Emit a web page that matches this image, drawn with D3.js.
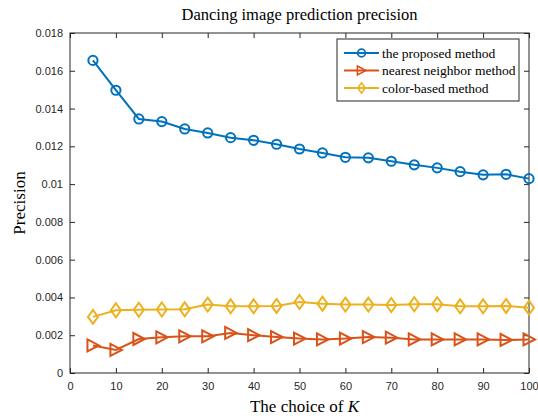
<!DOCTYPE html>
<html>
<head>
<meta charset="utf-8">
<script src="https://cdn.jsdelivr.net/npm/d3@7"></script>
<style>
  body { margin: 0; background: #fff; }
  svg { display: block; }
</style>
</head>
<body>
<svg id="root"></svg>
<script>
const kValues = [5, 10, 15, 20, 25, 30, 35, 40, 45, 50, 55, 60, 65, 70, 75, 80, 85, 90, 95, 100];
const proposed = [0.01655, 0.01497, 0.01345, 0.01331, 0.01292, 0.01271, 0.01246, 0.01232, 0.01211, 0.01186,
  0.01165, 0.01142, 0.01139, 0.01121, 0.01102, 0.01086, 0.01066, 0.01049, 0.01052, 0.01029];
const nearest = [0.00146, 0.00122, 0.0018, 0.00189, 0.00194, 0.00194, 0.00212, 0.002, 0.0019, 0.00182,
  0.00178, 0.00182, 0.0019, 0.00187, 0.00178, 0.00178, 0.00178, 0.00178, 0.00175, 0.00178];
const colorBased = [0.00297, 0.00332, 0.00335, 0.00336, 0.00337, 0.00362, 0.00353, 0.00353, 0.00355, 0.00376,
  0.00367, 0.00362, 0.00362, 0.0036, 0.00364, 0.00364, 0.00353, 0.00353, 0.00355, 0.00346];
const seriesNames = ["the proposed method", "nearest neighbor method", "color-based method"];
const xTicks = [0, 10, 20, 30, 40, 50, 60, 70, 80, 90, 100];
const yTicks = [0, 0.002, 0.004, 0.006, 0.008, 0.01, 0.012, 0.014, 0.016, 0.018];

(function () {
  const width = 538, height = 419;
  const margin = {left: 70, right: 9, top: 33, bottom: 46};
  const axisColor = "#262626";
  const colors = ["#0072BD", "#D95319", "#EDB120"];
  const shapes = ["circle", "triangle", "diamond"];

  const svg = d3.select("#root")
    .attr("width", width)
    .attr("height", height);

  const x = d3.scaleLinear().domain([0, 100]).range([margin.left, width - margin.right]);
  const y = d3.scaleLinear().domain([0, 0.018]).range([height - margin.bottom, margin.top]);

  const fmtY = d => d === 0 ? "0" : d3.format("~g")(d);

  // box
  svg.append("rect")
    .attr("x", x(0)).attr("y", y(0.018))
    .attr("width", x(100) - x(0)).attr("height", y(0) - y(0.018))
    .attr("fill", "none").attr("stroke", axisColor).attr("stroke-width", 1);

  // axes with inward ticks
  const bottom = svg.append("g")
    .attr("transform", `translate(0,${y(0)})`)
    .call(d3.axisBottom(x).tickValues(xTicks).tickSizeInner(-5).tickSizeOuter(0).tickPadding(9));
  const top = svg.append("g")
    .attr("transform", `translate(0,${y(0.018)})`)
    .call(d3.axisTop(x).tickValues(xTicks).tickSizeInner(-5).tickSizeOuter(0).tickFormat(""));
  const left = svg.append("g")
    .attr("transform", `translate(${x(0)},0)`)
    .call(d3.axisLeft(y).tickValues(yTicks).tickFormat(fmtY).tickSizeInner(-5).tickSizeOuter(0).tickPadding(7));
  const right = svg.append("g")
    .attr("transform", `translate(${x(100)},0)`)
    .call(d3.axisRight(y).tickValues(yTicks).tickSizeInner(-5).tickSizeOuter(0).tickFormat(""));

  for (let g of [bottom, top, left, right]) {
    g.select(".domain").remove();
    g.selectAll("line").attr("stroke", axisColor);
    g.selectAll("text")
      .attr("fill", axisColor)
      .style("font-family", "Liberation Sans, Arial, sans-serif")
      .style("font-size", "11px");
  }

  // symbols
  function marker(g, shape, color) {
    if (shape === "circle") {
      g.append("circle").attr("r", 4.6);
    } else if (shape === "triangle") {
      g.append("path").attr("d", "M-5.5,-6 L6,0 L-5.5,6 Z");
    } else {
      g.append("path").attr("d", "M0,-7 L5,0 L0,7 L-5,0 Z");
    }
    g.selectAll("*")
      .attr("fill", "none")
      .attr("stroke", color)
      .attr("stroke-width", 2);
  }

  const line = d3.line()
    .x(d => x(d.k))
    .y(d => y(d.v));

  const allSeries = [proposed, nearest, colorBased];
  const plot = svg.append("g");

  allSeries.forEach((vals, i) => {
    const pts = kValues.map((k, j) => ({k: k, v: vals[j]}));
    const sg = plot.append("g");
    sg.append("path")
      .datum(pts)
      .attr("d", line)
      .attr("fill", "none")
      .attr("stroke", colors[i])
      .attr("stroke-width", 2);
    sg.selectAll(".m")
      .data(pts)
      .enter().append("g")
      .attr("transform", d => `translate(${x(d.k)},${y(d.v)})`)
      .each(function () { marker(d3.select(this), shapes[i], colors[i]); });
  });

  // legend
  const lg = svg.append("g").attr("transform", "translate(337,39)");
  lg.append("rect")
    .attr("width", 182).attr("height", 62)
    .attr("fill", "#fff").attr("stroke", axisColor).attr("stroke-width", 1);
  seriesNames.forEach((name, i) => {
    const ry = 14 + i * 17.5;
    lg.append("line")
      .attr("x1", 7).attr("x2", 42).attr("y1", ry).attr("y2", ry)
      .attr("stroke", colors[i]).attr("stroke-width", 2);
    const mg = lg.append("g").attr("transform", `translate(24.5,${ry}) scale(${i === 0 ? 0.85 : 0.75})`);
    marker(mg, shapes[i], colors[i]);
    lg.append("text")
      .attr("x", 45).attr("y", ry + 4.5)
      .attr("fill", "#000")
      .style("font-family", "Liberation Serif, Times New Roman, serif")
      .style("font-size", "13.5px")
      .text(name);
  });

  // title
  svg.append("text")
    .attr("x", (x(0) + x(100)) / 2).attr("y", 20)
    .attr("text-anchor", "middle")
    .attr("fill", "#000")
    .style("font-family", "Liberation Serif, Times New Roman, serif")
    .style("font-size", "16.5px")
    .text("Dancing image prediction precision");

  // x label
  const xl = svg.append("text")
    .attr("x", (x(0) + x(100)) / 2 + 5).attr("y", 412)
    .attr("text-anchor", "middle")
    .attr("fill", "#000")
    .style("font-family", "Liberation Serif, Times New Roman, serif")
    .style("font-size", "17px");
  xl.append("tspan").text("The choice of ");
  xl.append("tspan").style("font-style", "italic").text("K");

  // y label
  svg.append("text")
    .attr("transform", `translate(25,${(y(0) + y(0.018)) / 2}) rotate(-90)`)
    .attr("text-anchor", "middle")
    .attr("fill", "#000")
    .style("font-family", "Liberation Serif, Times New Roman, serif")
    .style("font-size", "17px")
    .text("Precision");
})();
</script>
</body>
</html>
